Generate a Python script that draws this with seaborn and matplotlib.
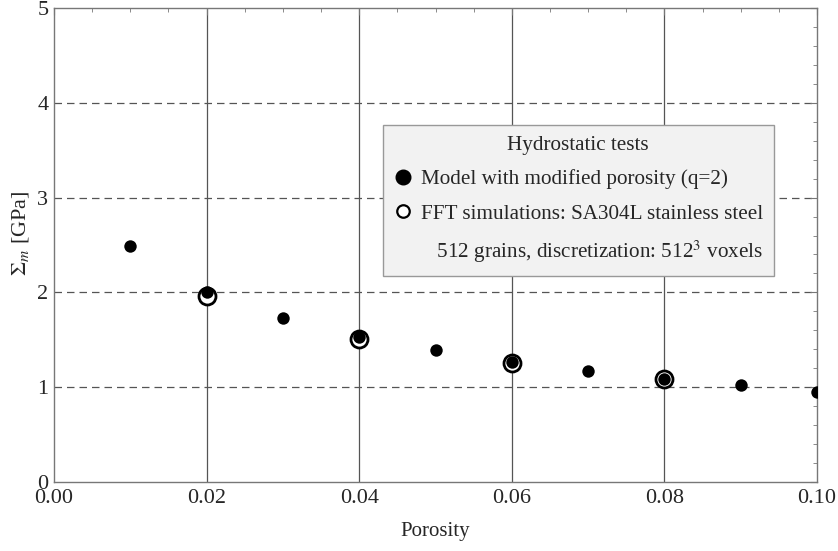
import numpy as np
import pandas as pd
import matplotlib
matplotlib.use("Agg")
import matplotlib.pyplot as plt
import seaborn as sns
from matplotlib.ticker import MultipleLocator, FormatStrFormatter
from matplotlib.lines import Line2D

# Data
porosity_model = [0.01, 0.02, 0.03, 0.04, 0.05, 0.06, 0.07, 0.08, 0.09, 0.10]
sigma_model = [2.49, 2.00, 1.73, 1.53, 1.39, 1.27, 1.17, 1.09, 1.02, 0.95]

porosity_fft = [0.02, 0.04, 0.06, 0.08]
sigma_fft = [1.96, 1.51, 1.26, 1.09]

model_df = pd.DataFrame({"Porosity": porosity_model, "Sigma": sigma_model})
fft_df = pd.DataFrame({"Porosity": porosity_fft, "Sigma": sigma_fft})

sns.set_style("white")
plt.rcParams['font.family'] = ['Liberation Serif', 'DejaVu Serif']
plt.rcParams['mathtext.fontset'] = 'stix'

fig = plt.figure(figsize=(8.38, 5.51), dpi=100)
ax = fig.add_axes([0.0644, 0.1252, 0.9106, 0.8603])

# grid: solid verticals, dashed horizontals
for xv in [0.02, 0.04, 0.06, 0.08]:
    ax.axvline(xv, color='#555555', lw=0.9, zorder=0)
for yv in [1, 2, 3, 4]:
    ax.axhline(yv, color='#555555', lw=0.9, ls=(0, (6, 4)), zorder=0)

sns.scatterplot(data=fft_df, x="Porosity", y="Sigma", ax=ax, s=150,
                facecolor='white', edgecolor='black', linewidth=2, zorder=3)
sns.scatterplot(data=model_df, x="Porosity", y="Sigma", ax=ax, s=80,
                color='black', edgecolor='black', linewidth=0, zorder=4)

ax.set_xlim(0, 0.10)
ax.set_ylim(0, 5)
ax.xaxis.set_major_locator(MultipleLocator(0.02))
ax.xaxis.set_minor_locator(MultipleLocator(0.005))
ax.yaxis.set_major_locator(MultipleLocator(1))
ax.yaxis.set_minor_locator(MultipleLocator(0.2))
ax.xaxis.set_major_formatter(FormatStrFormatter('%.2f'))
ax.tick_params(which='both', direction='in', top=True, right=True,
               color='#777777', labelsize=16)
ax.tick_params(axis='x', pad=5)
ax.tick_params(axis='y', pad=4)
ax.tick_params(which='major', length=5)
ax.tick_params(which='minor', length=3)
for sp in ax.spines.values():
    sp.set_color('#777777')
    sp.set_linewidth(1.0)

ax.set_xlabel("Porosity", fontsize=15, labelpad=10)
ax.set_ylabel(r"$\Sigma_m$ [GPa]", fontsize=16)
ax.yaxis.set_label_coords(-0.03, 0.525)

handles = [
    Line2D([], [], marker='o', ls='none', color='black', markersize=10.5),
    Line2D([], [], marker='o', ls='none', markerfacecolor='white',
           markeredgecolor='black', markeredgewidth=1.6, markersize=9),
    Line2D([], [], ls='none'),
]
labels = ["Model with modified porosity (q=2)",
          "FFT simulations: SA304L stainless steel",
          "   512 grains, discretization: 512$^3$ voxels"]
leg = ax.legend(handles, labels, title="Hydrostatic tests", loc='upper left',
                bbox_to_anchor=(0.431, 0.753), fontsize=15.2, title_fontsize=15.2,
                frameon=True, fancybox=False, handletextpad=0.4,
                handlelength=0.9, borderpad=0.5, labelspacing=0.7,
                borderaxespad=0)
leg.get_frame().set_facecolor('#f2f2f2')
leg.get_frame().set_edgecolor('#999999')
leg.get_frame().set_alpha(1)

fig.savefig("out.png", dpi=100)
